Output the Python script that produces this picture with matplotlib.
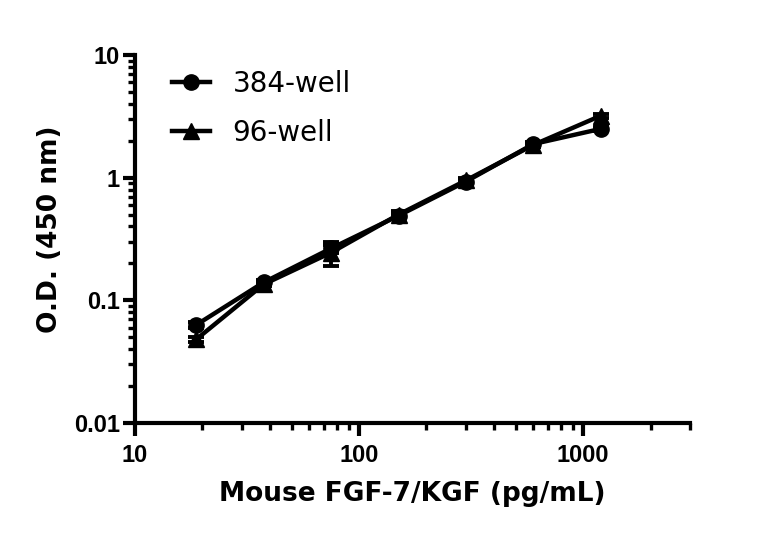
import matplotlib
matplotlib.use("Agg")
import matplotlib.pyplot as plt
from matplotlib.lines import Line2D
from matplotlib.ticker import LogLocator, FixedLocator, NullFormatter, FixedFormatter
from matplotlib.font_manager import FontProperties

conc = [18.75, 37.5, 75, 150, 300, 600, 1200]
od_384 = [0.063, 0.140, 0.265, 0.49, 0.93, 1.88, 2.50]
err_384 = [0.003, 0.006, 0.02, 0.02, 0.04, 0.08, 0.10]
od_96 = [0.048, 0.135, 0.245, 0.50, 0.95, 1.85, 3.20]
err_96 = [0.002, 0.005, 0.055, 0.03, 0.04, 0.06, 0.12]
series_labels = ["384-well", "96-well"]
x_ticks = [10, 100, 1000]
x_ticklabels = ["10", "100", "1000"]
y_ticks = [0.01, 0.1, 1, 10]
y_ticklabels = ["0.01", "0.1", "1", "10"]

fig = plt.figure(figsize=(7.68, 5.34), dpi=100)
ax = fig.add_axes([135/768, 1-423/534, (690-135)/768, (423-55)/534])

LW = 3.2
ax.errorbar(conc, od_384, yerr=err_384, color="black", lw=LW, marker="o", ms=11,
            capsize=6, capthick=2.8, elinewidth=2.8, zorder=3)
ax.errorbar(conc, od_96, yerr=err_96, color="black", lw=LW, marker="^", ms=11,
            capsize=6, capthick=2.8, elinewidth=2.8, zorder=3)

ax.set_xscale("log")
ax.set_yscale("log")
ax.set_xlim(10, 3000)
ax.set_ylim(0.01, 10)

for s in ["top", "right"]:
    ax.spines[s].set_visible(False)
for s in ["left", "bottom"]:
    ax.spines[s].set_linewidth(3)

ax.xaxis.set_major_locator(FixedLocator(x_ticks))
ax.xaxis.set_major_formatter(FixedFormatter(x_ticklabels))
ax.yaxis.set_major_locator(FixedLocator(y_ticks))
ax.yaxis.set_major_formatter(FixedFormatter(y_ticklabels))
ax.xaxis.set_minor_locator(LogLocator(base=10, subs=range(2, 10), numticks=20))
ax.yaxis.set_minor_locator(LogLocator(base=10, subs=range(2, 10), numticks=20))
ax.xaxis.set_minor_formatter(NullFormatter())
ax.yaxis.set_minor_formatter(NullFormatter())
ax.tick_params(which="major", direction="out", length=9, width=3)
ax.tick_params(which="minor", direction="out", length=5, width=2.4)

tick_fp = FontProperties(family=["Liberation Sans Narrow", "Liberation Sans", "DejaVu Sans"],
                         weight="bold", size=17)
for lab in ax.get_xticklabels() + ax.get_yticklabels():
    lab.set_fontproperties(tick_fp)
ax.tick_params(axis="x", pad=6)
ax.tick_params(axis="y", pad=2)

label_font = dict(family=["DejaVu Sans"], weight="bold", size=19)
ax.set_xlabel("Mouse FGF-7/KGF (pg/mL)", fontdict=label_font, labelpad=10)
ax.set_ylabel("O.D. (450 nm)", fontdict=label_font)
ax.yaxis.set_label_coords(-0.13, 0.527)

handles = [Line2D([], [], color="black", lw=LW, marker="o", ms=11),
           Line2D([], [], color="black", lw=LW, marker="^", ms=11)]
leg = ax.legend(handles, series_labels, loc="upper left", bbox_to_anchor=(0.067, 0.959),
                borderaxespad=0, borderpad=0,
                frameon=False, prop=dict(family=["DejaVu Sans"], size=20),
                handlelength=1.37, labelspacing=0.76, handletextpad=0.8)

fig.savefig("out.png", dpi=100)
